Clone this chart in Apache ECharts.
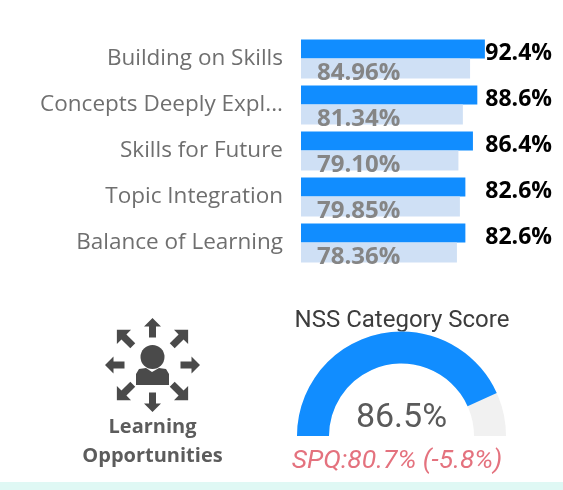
<!DOCTYPE html>
<html><head><meta charset="utf-8">
<style>html,body{margin:0;padding:0;background:#fff}#c{width:563px;height:490px}</style>
<script src="https://cdn.jsdelivr.net/npm/echarts@6/dist/echarts.min.js"></script>
</head><body><div id="c"></div>
<script>
const categories = ['Building on Skills','Concepts Deeply Expl...','Skills for Future','Topic Integration','Balance of Learning'];
const scoreValues = [92.4,88.6,86.4,82.6,82.6];
const benchmarkValues = [84.96,81.34,79.10,79.85,78.36];
const gaugeValue = 86.5;
const gaugeTitle = 'NSS Category Score';
const gaugeNote = 'SPQ:80.7% (-5.8%)';
const iconLabel = ['Learning','Opportunities'];

const chart = echarts.init(document.getElementById('c'), null, {renderer:'canvas'});
const iconC = '#4a4a4a';
const arrow = (cx,cy,rot)=>({type:'polygon',x:cx,y:cy,rotation:rot,
  shape:{points:[[0,-10],[8.5,-1.5],[3.5,-1.5],[3.5,9.5],[-3.5,9.5],[-3.5,-1.5],[-8.5,-1.5]]},
  style:{fill:iconC}});
const diag = (cx,cy,rot)=>({type:'polygon',x:cx,y:cy,rotation:rot,
  shape:{points:[[0,-11.5],[10,-1.5],[3.5,-1.5],[3.5,11],[-3.5,11],[-3.5,-1.5],[-10,-1.5]]},
  style:{fill:iconC}});
const d=Math.PI/180;
chart.setOption({
  animation:false,
  backgroundColor:'#fff',
  grid:{left:301,top:36,width:199,height:230,containLabel:false},
  xAxis:{type:'value',min:0,max:100,show:false},
  yAxis:[
    {type:'category',inverse:true,data:categories,axisLine:{show:false},axisTick:{show:false},splitLine:{show:false},
     axisLabel:{margin:18,fontFamily:'Open Sans',fontSize:22.5,color:'#6f6f6f',align:'right',verticalAlign:'middle',padding:[3,0,0,0]}},
    {type:'category',inverse:true,position:'right',data:scoreValues.map(v=>v.toFixed(1)+'%'),axisLine:{show:false},axisTick:{show:false},
     axisLabel:{margin:52,align:'right',verticalAlign:'bottom',lineHeight:12,fontFamily:'Open Sans',fontWeight:'bold',fontSize:23,color:'#000'}}
  ],
  series:[
    {type:'bar',name:'Score',data:scoreValues,barWidth:19,barGap:0,itemStyle:{color:'#118dff'}},
    {type:'bar',name:'SPQ',data:benchmarkValues,barWidth:20,barGap:0,itemStyle:{color:'#cfe0f5'},
     label:{show:true,position:'insideLeft',offset:[11,5],formatter:p=>p.value.toFixed(2)+'%',fontFamily:'Open Sans',fontWeight:'bold',fontSize:24,color:'#858585'}},
    {type:'gauge',center:[401.5,436],radius:104.5,startAngle:180,endAngle:0,min:0,max:100,
     progress:{show:true,width:32,roundCap:false,itemStyle:{color:'#118dff'}},
     axisLine:{lineStyle:{width:32,color:[[1,'#f1f1f1']]}},
     axisTick:{show:false},splitLine:{show:false},axisLabel:{show:false},pointer:{show:false},anchor:{show:false},
     title:{show:false},
     detail:{show:true,valueAnimation:false,offsetCenter:[0,-18],formatter:v=>v.toFixed(1)+'%',fontFamily:'Roboto',fontWeight:'normal',fontSize:34,color:'#5a5a5a'},
     data:[{value:gaugeValue}]}
  ],
  graphic:[
    {type:'rect',shape:{x:0,y:482,width:563,height:8},style:{fill:'#dff8f4'},silent:true},
    {type:'text',x:402,y:321,style:{text:gaugeTitle,align:'center',verticalAlign:'middle',fontFamily:'Roboto',fontSize:24,fill:'#3c3c3c'}},
    {type:'text',x:397,y:461,style:{text:gaugeNote,align:'center',verticalAlign:'middle',fontFamily:'Roboto',fontStyle:'italic',fontSize:26.5,fill:'#e4727e'}},
    {type:'text',x:152.5,y:427,style:{text:iconLabel[0],align:'center',verticalAlign:'middle',fontFamily:'Open Sans',fontWeight:'bold',fontSize:20,fill:'#5c5c5c'}},
    {type:'text',x:152.5,y:456,style:{text:iconLabel[1],align:'center',verticalAlign:'middle',fontFamily:'Open Sans',fontWeight:'bold',fontSize:20,fill:'#5c5c5c'}},
    {type:'circle',shape:{cx:152.5,cy:357,r:12},style:{fill:iconC}},
    {type:'polygon',shape:{points:[[136,385],[136,374],[139,369],[146,368],[152,372],[159,368],[166,369],[169,374],[169,385]]},style:{fill:iconC}},
    arrow(152.5,328,0),arrow(190,365,-90*d),arrow(152.5,402,180*d),arrow(115,365,90*d),
    diag(125,338,45*d),diag(180,338,-45*d),diag(125,392,135*d),diag(180,392,-135*d)
  ]
});
</script></body></html>
